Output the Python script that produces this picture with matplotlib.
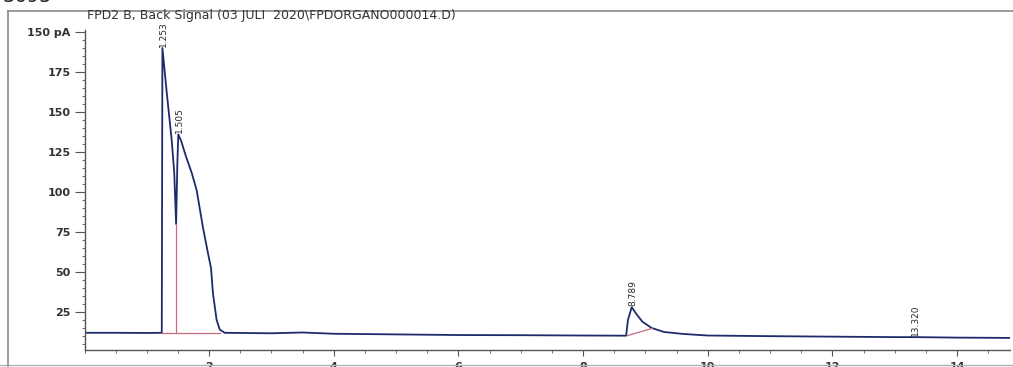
import numpy as np
import matplotlib
matplotlib.use('Agg')
import matplotlib.pyplot as plt
from matplotlib.lines import Line2D
from matplotlib.ticker import MultipleLocator, FixedLocator, FixedFormatter

# =============================================================
# Dados lidos do cromatograma (tempo em min, sinal em pA)
# =============================================================

tempo = [0.0, 0.5, 1.0, 1.24, 1.25, 1.32, 1.40, 1.44, 1.47, 1.49, 1.505,
         1.55, 1.63, 1.72, 1.80, 1.90, 1.98, 2.03, 2.06, 2.12, 2.17, 2.25,
         3.0, 3.5, 4.0, 5.0, 6.0, 7.0, 8.0, 8.69, 8.72, 8.78, 8.85, 8.95,
         9.1, 9.3, 9.6, 10.0, 11.0, 12.0, 13.0, 13.32, 14.0, 14.85]
sinal = [12.0, 12.0, 11.9, 12.0, 190.0, 162.0, 132.0, 112.0, 80.0, 118.0, 136.0,
         132.0, 122.0, 112.0, 101.0, 78.0, 62.0, 52.5, 37.0, 20.0, 14.0, 12.0,
         11.7, 12.2, 11.4, 11.0, 10.6, 10.5, 10.3, 10.2, 20.0, 28.0, 24.0, 19.0,
         15.0, 12.5, 11.3, 10.3, 9.9, 9.6, 9.3, 9.3, 9.0, 8.8]

# linhas de base da integração (vermelhas)
base_x = [[1.25, 2.17], [1.47, 1.47], [8.71, 9.11]]
base_y = [[12.0, 12.0], [12.0, 80.0], [10.2, 14.8]]

# tempos de retenção anotados
picos_rotulo = ['1.253', '1.505', '8.789', '13.320']
picos_tempo = [1.25, 1.505, 8.78, 13.32]

y_ticks = [25, 50, 75, 100, 125, 150, 175, 200]
y_rotulos = ['25', '50', '75', '100', '125', '150', '175', '150 pA']
x_ticks = [2, 4, 6, 8, 10, 12, 14]

titulo = r'FPD2 B, Back Signal (03 JULI  2020\FPDORGANO000014.D)'

# =============================================================
# Figura
# =============================================================

W, H = 1013, 367
fig = plt.figure(figsize=(W / 100, H / 100), dpi=100)
ax = fig.add_axes([84.5 / W, 1 - 350 / H, (1010 - 84.5) / W, (350 - 30) / H])

ax.plot(tempo, sinal, color='#1d2b6b', linewidth=1.3)
for bx, by in zip(base_x, base_y):
    ax.plot(bx, by, color='#c9687f', linewidth=0.9)

for rot, t in zip(picos_rotulo, picos_tempo):
    h = np.interp(t, tempo, sinal)
    ax.annotate(rot, xy=(t, h), xytext=(0.5, 1), textcoords='offset points',
                rotation=90, ha='center', va='bottom',
                fontsize=6.5, color='#2a2a2a')

ax.set_xlim(0, 14.85)
ax.set_ylim(1.25, 201.25)

ax.spines['top'].set_visible(False)
ax.spines['right'].set_visible(False)
for s in ['left', 'bottom']:
    ax.spines[s].set_color('#555555')
    ax.spines[s].set_linewidth(1.0)

ax.yaxis.set_major_locator(FixedLocator(y_ticks))
ax.yaxis.set_major_formatter(FixedFormatter(y_rotulos))
ax.yaxis.set_minor_locator(MultipleLocator(5))
ax.xaxis.set_major_locator(FixedLocator(x_ticks))
ax.xaxis.set_minor_locator(MultipleLocator(0.5))

ax.tick_params(axis='y', which='major', length=7, width=0.8, color='#555555',
               labelsize=8, labelcolor='#333333', pad=3)
ax.tick_params(axis='y', which='minor', length=2.5, width=0.6, color='#555555')
ax.tick_params(axis='x', which='major', length=4, width=0.8, color='#555555',
               labelsize=8, labelcolor='#333333', pad=5)
ax.tick_params(axis='x', which='minor', length=2, width=0.6, color='#555555')
for lab in ax.get_yticklabels() + ax.get_xticklabels():
    lab.set_fontweight('bold')

# moldura externa do relatório
frame = '#8a8a8a'
fig.add_artist(Line2D([8 / W, 8 / W], [1 - 11 / H, 0], color=frame, lw=1.2))
fig.add_artist(Line2D([8 / W, 1], [1 - 11 / H, 1 - 11 / H], color=frame, lw=1.2))
fig.add_artist(Line2D([0, 1], [1 - 365 / H, 1 - 365 / H], color='#b0b0b0', lw=1.0))

fig.text(87 / W, 1 - 16 / H, titulo, fontsize=9, color='#333333',
         ha='left', va='center')
# pedaço de texto cortado no topo da digitalização
fig.text(2 / W, 1 + 4 / H, '3695', fontsize=14, color='#222222',
         ha='left', va='center')

fig.savefig('out.png', dpi=100)
